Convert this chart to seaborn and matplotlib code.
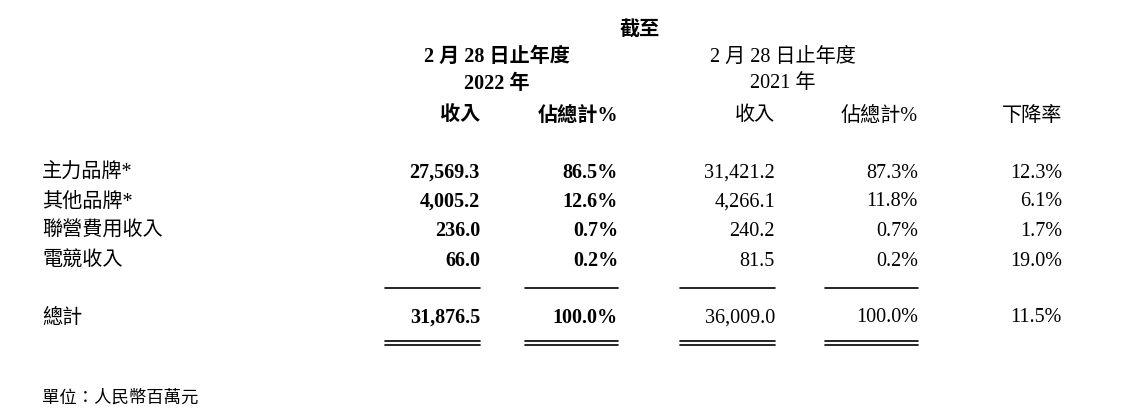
import matplotlib
matplotlib.use("Agg")
import matplotlib.pyplot as plt
import seaborn as sns
from matplotlib.lines import Line2D

categories = ["主力品牌*", "其他品牌*", "聯營費用收入", "電競收入"]
rev_2022 = ["27,569.3", "4,005.2", "236.0", "66.0"]
pct_2022 = ["86.5%", "12.6%", "0.7%", "0.2%"]
rev_2021 = ["31,421.2", "4,266.1", "240.2", "81.5"]
pct_2021 = ["87.3%", "11.8%", "0.7%", "0.2%"]
decline = ["12.3%", "6.1%", "1.7%", "19.0%"]
total_label = "總計"
totals = ["31,876.5", "100.0%", "36,009.0", "100.0%", "11.5%"]

sns.set_theme(style="white")
plt.rcParams['font.family'] = ['Liberation Serif', 'Noto Sans CJK TC']

W, H = 1145, 417
fig = plt.figure(figsize=(W / 100, H / 100), dpi=100)
fig.patch.set_facecolor("white")
FS = 14.5

def T(x, y, s, ha="left", bold=False, italic=False, size=FS):
    fig.text(x / W, 1 - y / H, s, ha=ha, va="center", fontsize=size,
             fontweight="bold" if bold else "normal",
             fontstyle="italic" if italic else "normal", color="black")

def L(x0, x1, y, lw=1.2):
    fig.add_artist(Line2D([x0 / W, x1 / W], [1 - y / H, 1 - y / H], color="black", lw=lw))

T(640, 30, "截至", ha="center", bold=True)
T(497, 57, "2 月 28 日止年度", ha="center", bold=True)
T(497, 84, "2022 年", ha="center", bold=True)
T(783, 57, "2 月 28 日止年度", ha="center")
T(783, 84, "2021 年", ha="center")

rights = [480, 618, 775, 918, 1062]
heads = ["收入", "佔總計%", "收入", "佔總計%", "下降率"]
for i, (r, h) in enumerate(zip(rights, heads)):
    T(r, 116, h, ha="right", bold=i < 2)

ys = [173, 202, 231, 261]
for y, c, a, b, d, e, f in zip(ys, categories, rev_2022, pct_2022, rev_2021, pct_2021, decline):
    T(42, y, c)
    for i, (r, v) in enumerate(zip(rights, [a, b, d, e, f])):
        T(r, y, v, ha="right", bold=i < 2)

T(42, 318, total_label)
for i, (r, v) in enumerate(zip(rights, totals)):
    T(r, 318, v, ha="right", bold=i < 2)

spans = [(385, 480), (525, 618), (680, 775), (825, 918)]
for x0, x1 in spans:
    L(x0, x1, 288)
    L(x0, x1, 341)
    L(x0, x1, 345)

T(42, 398, "單位：人民幣百萬元", italic=True, size=12.5)

fig.savefig("out.png", dpi=100, facecolor="white")
